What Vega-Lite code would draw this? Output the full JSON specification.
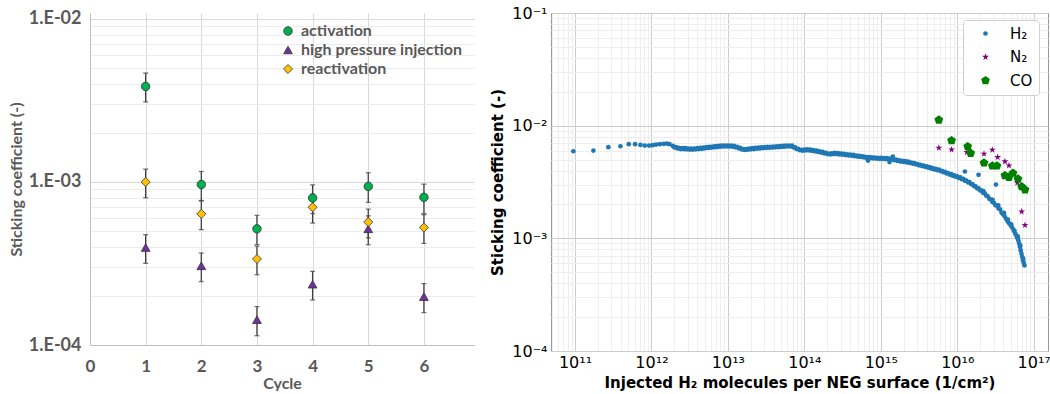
{
  "$schema": "https://vega.github.io/schema/vega-lite/v6.json",
  "background": "white",
  "padding": {"left": 8, "top": 4, "right": 0, "bottom": 0},
  "spacing": 16,
  "resolve": {"scale": {"color": "independent", "shape": "independent", "size": "independent"}, "legend": {"color": "independent", "shape": "independent", "size": "independent"}},
  "datasets": {
    "cycles": [
      {"cycle": 1, "series": "activation", "v": 0.00386, "lo": 0.0031, "hi": 0.00466},
      {"cycle": 2, "series": "activation", "v": 0.000965, "lo": 0.00077, "hi": 0.00116},
      {"cycle": 3, "series": "activation", "v": 0.000516, "lo": 0.000413, "hi": 0.000624},
      {"cycle": 4, "series": "activation", "v": 0.000798, "lo": 0.00064, "hi": 0.00096},
      {"cycle": 5, "series": "activation", "v": 0.00094, "lo": 0.00075, "hi": 0.00114},
      {"cycle": 6, "series": "activation", "v": 0.000805, "lo": 0.00064, "hi": 0.00097},
      {"cycle": 1, "series": "high pressure injection", "v": 0.000396, "lo": 0.000317, "hi": 0.000475},
      {"cycle": 2, "series": "high pressure injection", "v": 0.000306, "lo": 0.000245, "hi": 0.000367},
      {"cycle": 3, "series": "high pressure injection", "v": 0.000143, "lo": 0.000114, "hi": 0.000172},
      {"cycle": 4, "series": "high pressure injection", "v": 0.000236, "lo": 0.000189, "hi": 0.000283},
      {"cycle": 5, "series": "high pressure injection", "v": 0.000516, "lo": 0.000413, "hi": 0.00062},
      {"cycle": 6, "series": "high pressure injection", "v": 0.000198, "lo": 0.000158, "hi": 0.000238},
      {"cycle": 1, "series": "reactivation", "v": 0.001, "lo": 0.0008, "hi": 0.0012},
      {"cycle": 2, "series": "reactivation", "v": 0.000638, "lo": 0.00051, "hi": 0.000766},
      {"cycle": 3, "series": "reactivation", "v": 0.000337, "lo": 0.00027, "hi": 0.000404},
      {"cycle": 4, "series": "reactivation", "v": 0.0007, "lo": 0.00056, "hi": 0.00084},
      {"cycle": 5, "series": "reactivation", "v": 0.000568, "lo": 0.000454, "hi": 0.000682},
      {"cycle": 6, "series": "reactivation", "v": 0.000525, "lo": 0.00042, "hi": 0.00063}
    ],
    "h2": [
      {"x": 9.5e10, "y": 5.93e-3}, {"x": 1.74e11, "y": 6.01e-3}, {"x": 2.73e11, "y": 6.44e-3}, {"x": 3.93e11, "y": 6.57e-3},
      {"x": 5.05e11, "y": 6.85e-3}, {"x": 6.11e11, "y": 6.85e-3}, {"x": 7.18e11, "y": 6.75e-3}, {"x": 8.17e11, "y": 6.66e-3},
      {"x": 9.31e11, "y": 6.66e-3}, {"x": 1.04e12, "y": 6.71e-3}, {"x": 1.15e12, "y": 6.80e-3}, {"x": 1.29e12, "y": 6.85e-3},
      {"x": 1.45e12, "y": 6.9e-3}, {"x": 1.59e12, "y": 6.94e-3}, {"x": 1.72e12, "y": 6.85e-3}, {"x": 1.905e12, "y": 6.61e-3},
      {"x": 2.089e12, "y": 6.46e-3}, {"x": 2.291e12, "y": 6.35e-3}, {"x": 2.512e12, "y": 6.31e-3}, {"x": 2.754e12, "y": 6.31e-3},
      {"x": 3.02e12, "y": 6.27e-3}, {"x": 3.311e12, "y": 6.27e-3}, {"x": 3.631e12, "y": 6.27e-3}, {"x": 3.981e12, "y": 6.31e-3},
      {"x": 4.365e12, "y": 6.34e-3}, {"x": 4.786e12, "y": 6.38e-3}, {"x": 5.248e12, "y": 6.46e-3}, {"x": 5.754e12, "y": 6.49e-3},
      {"x": 6.31e12, "y": 6.53e-3}, {"x": 6.918e12, "y": 6.58e-3}, {"x": 7.586e12, "y": 6.61e-3}, {"x": 8.318e12, "y": 6.65e-3},
      {"x": 9.12e12, "y": 6.67e-3}, {"x": 1.0e13, "y": 6.67e-3}, {"x": 1.096e13, "y": 6.65e-3}, {"x": 1.202e13, "y": 6.61e-3},
      {"x": 1.318e13, "y": 6.49e-3}, {"x": 1.445e13, "y": 6.35e-3}, {"x": 1.585e13, "y": 6.21e-3}, {"x": 1.738e13, "y": 6.21e-3},
      {"x": 1.905e13, "y": 6.27e-3}, {"x": 2.089e13, "y": 6.31e-3}, {"x": 2.291e13, "y": 6.35e-3}, {"x": 2.512e13, "y": 6.38e-3},
      {"x": 2.754e13, "y": 6.43e-3}, {"x": 3.02e13, "y": 6.46e-3}, {"x": 3.311e13, "y": 6.49e-3}, {"x": 3.631e13, "y": 6.5e-3},
      {"x": 3.981e13, "y": 6.53e-3}, {"x": 4.365e13, "y": 6.56e-3}, {"x": 4.786e13, "y": 6.58e-3}, {"x": 5.248e13, "y": 6.61e-3},
      {"x": 5.754e13, "y": 6.64e-3}, {"x": 6.31e13, "y": 6.67e-3}, {"x": 6.918e13, "y": 6.64e-3}, {"x": 7.586e13, "y": 6.41e-3},
      {"x": 8.318e13, "y": 6.24e-3}, {"x": 9.12e13, "y": 6.1e-3}, {"x": 1.0e14, "y": 6.14e-3}, {"x": 1.096e14, "y": 6.17e-3},
      {"x": 1.202e14, "y": 6.12e-3}, {"x": 1.318e14, "y": 6.08e-3}, {"x": 1.445e14, "y": 6.0e-3}, {"x": 1.585e14, "y": 5.93e-3},
      {"x": 1.738e14, "y": 5.85e-3}, {"x": 1.905e14, "y": 5.75e-3}, {"x": 2.089e14, "y": 5.65e-3}, {"x": 2.291e14, "y": 5.69e-3},
      {"x": 2.512e14, "y": 5.73e-3}, {"x": 2.754e14, "y": 5.7e-3}, {"x": 3.02e14, "y": 5.65e-3}, {"x": 3.311e14, "y": 5.61e-3},
      {"x": 3.631e14, "y": 5.57e-3}, {"x": 3.981e14, "y": 5.53e-3}, {"x": 4.365e14, "y": 5.5e-3}, {"x": 4.786e14, "y": 5.43e-3},
      {"x": 5.248e14, "y": 5.4e-3}, {"x": 5.754e14, "y": 5.35e-3}, {"x": 6.31e14, "y": 5.3e-3}, {"x": 6.918e14, "y": 5.25e-3},
      {"x": 7.586e14, "y": 5.24e-3}, {"x": 8.318e14, "y": 5.21e-3}, {"x": 9.12e14, "y": 5.19e-3}, {"x": 1.0e15, "y": 5.18e-3},
      {"x": 1.096e15, "y": 5.16e-3}, {"x": 1.202e15, "y": 5.15e-3}, {"x": 1.318e15, "y": 5.11e-3}, {"x": 1.445e15, "y": 5.07e-3},
      {"x": 1.585e15, "y": 4.99e-3}, {"x": 1.738e15, "y": 4.92e-3}, {"x": 1.905e15, "y": 4.88e-3}, {"x": 2.089e15, "y": 4.84e-3},
      {"x": 2.291e15, "y": 4.79e-3}, {"x": 2.512e15, "y": 4.71e-3}, {"x": 2.754e15, "y": 4.65e-3}, {"x": 3.02e15, "y": 4.57e-3},
      {"x": 3.311e15, "y": 4.5e-3}, {"x": 3.631e15, "y": 4.43e-3}, {"x": 3.981e15, "y": 4.36e-3}, {"x": 4.365e15, "y": 4.28e-3},
      {"x": 4.786e15, "y": 4.2e-3}, {"x": 5.248e15, "y": 4.13e-3}, {"x": 5.754e15, "y": 4.07e-3}, {"x": 6.31e15, "y": 3.98e-3},
      {"x": 6.918e15, "y": 3.89e-3}, {"x": 7.586e15, "y": 3.8e-3}, {"x": 8.318e15, "y": 3.72e-3}, {"x": 9.12e15, "y": 3.63e-3},
      {"x": 1.0e16, "y": 3.55e-3}, {"x": 1.096e16, "y": 3.47e-3}, {"x": 1.202e16, "y": 3.37e-3}, {"x": 1.318e16, "y": 3.26e-3},
      {"x": 1.445e16, "y": 3.15e-3}, {"x": 1.585e16, "y": 3.03e-3}, {"x": 1.738e16, "y": 2.9e-3}, {"x": 1.905e16, "y": 2.78e-3},
      {"x": 2.089e16, "y": 2.65e-3}, {"x": 2.291e16, "y": 2.51e-3}, {"x": 2.512e16, "y": 2.36e-3}, {"x": 2.754e16, "y": 2.21e-3},
      {"x": 3.02e16, "y": 2.07e-3}, {"x": 3.311e16, "y": 1.95e-3}, {"x": 3.631e16, "y": 1.81e-3}, {"x": 3.981e16, "y": 1.64e-3},
      {"x": 4.169e16, "y": 1.57e-3}, {"x": 4.365e16, "y": 1.49e-3}, {"x": 4.571e16, "y": 1.41e-3}, {"x": 4.786e16, "y": 1.36e-3},
      {"x": 5.012e16, "y": 1.3e-3}, {"x": 5.248e16, "y": 1.24e-3}, {"x": 5.495e16, "y": 1.17e-3}, {"x": 5.754e16, "y": 1.1e-3},
      {"x": 5.957e16, "y": 1.05e-3}, {"x": 6.166e16, "y": 1.0e-3}, {"x": 6.31e16, "y": 9.55e-4}, {"x": 6.457e16, "y": 9.02e-4},
      {"x": 6.607e16, "y": 8.41e-4}, {"x": 6.761e16, "y": 7.85e-4}, {"x": 6.918e16, "y": 7.33e-4}, {"x": 7.079e16, "y": 6.84e-4},
      {"x": 7.244e16, "y": 6.38e-4}, {"x": 7.413e16, "y": 6.03e-4}, {"x": 7.586e16, "y": 5.75e-4},
      {"x": 6.8e14, "y": 4.9e-3}, {"x": 1.3e15, "y": 4.75e-3}, {"x": 1.44e15, "y": 5.32e-3}, {"x": 1.26e16, "y": 3.92e-3},
      {"x": 1.9e16, "y": 3.66e-3}, {"x": 3.21e16, "y": 3.0e-3}, {"x": 2.2e16, "y": 2.62e-3}, {"x": 2.9e16, "y": 2.2e-3},
      {"x": 3.45e16, "y": 1.96e-3}, {"x": 4.1e16, "y": 1.68e-3}, {"x": 4.6e16, "y": 1.47e-3}, {"x": 5.1e16, "y": 1.33e-3},
      {"x": 5.6e16, "y": 1.17e-3}, {"x": 6.2e16, "y": 1.04e-3}, {"x": 6.7e16, "y": 8.6e-4}, {"x": 7.3e16, "y": 6.6e-4},
      {"x": 1.995e12, "y": 6.40e-3}, {"x": 2.188e12, "y": 6.28e-3}, {"x": 2.399e12, "y": 6.20e-3}, {"x": 2.630e12, "y": 6.18e-3},
      {"x": 2.884e12, "y": 6.16e-3}, {"x": 3.162e12, "y": 6.14e-3}, {"x": 3.467e12, "y": 6.14e-3}, {"x": 3.802e12, "y": 6.16e-3},
      {"x": 4.169e12, "y": 6.20e-3}, {"x": 4.571e12, "y": 6.23e-3}, {"x": 5.012e12, "y": 6.29e-3}, {"x": 5.495e12, "y": 6.34e-3},
      {"x": 6.026e12, "y": 6.38e-3}, {"x": 6.607e12, "y": 6.42e-3}, {"x": 7.244e12, "y": 6.46e-3}, {"x": 7.943e12, "y": 6.50e-3},
      {"x": 8.710e12, "y": 6.53e-3}, {"x": 9.550e12, "y": 6.54e-3}, {"x": 1.047e13, "y": 6.53e-3}, {"x": 1.148e13, "y": 6.50e-3},
      {"x": 1.259e13, "y": 6.42e-3}, {"x": 1.380e13, "y": 6.29e-3}, {"x": 1.514e13, "y": 6.15e-3}, {"x": 1.660e13, "y": 6.09e-3},
      {"x": 1.820e13, "y": 6.12e-3}, {"x": 1.995e13, "y": 6.16e-3}, {"x": 2.188e13, "y": 6.20e-3}, {"x": 2.399e13, "y": 6.24e-3},
      {"x": 2.630e13, "y": 6.27e-3}, {"x": 2.884e13, "y": 6.32e-3}, {"x": 3.162e13, "y": 6.35e-3}, {"x": 3.467e13, "y": 6.37e-3},
      {"x": 3.802e13, "y": 6.39e-3}, {"x": 4.169e13, "y": 6.42e-3}, {"x": 4.571e13, "y": 6.44e-3}, {"x": 5.012e13, "y": 6.47e-3},
      {"x": 5.495e13, "y": 6.50e-3}, {"x": 6.026e13, "y": 6.53e-3}, {"x": 6.607e13, "y": 6.53e-3}, {"x": 7.244e13, "y": 6.40e-3},
      {"x": 7.943e13, "y": 6.20e-3}, {"x": 8.710e13, "y": 6.05e-3}, {"x": 9.550e13, "y": 6.00e-3}, {"x": 1.047e14, "y": 6.04e-3},
      {"x": 1.148e14, "y": 6.02e-3}, {"x": 1.259e14, "y": 5.98e-3}, {"x": 1.380e14, "y": 5.92e-3}, {"x": 1.514e14, "y": 5.85e-3},
      {"x": 1.660e14, "y": 5.77e-3}, {"x": 1.820e14, "y": 5.68e-3}, {"x": 1.995e14, "y": 5.59e-3}, {"x": 2.188e14, "y": 5.56e-3},
      {"x": 2.399e14, "y": 5.60e-3}, {"x": 2.630e14, "y": 5.60e-3}, {"x": 2.884e14, "y": 5.56e-3}, {"x": 3.162e14, "y": 5.52e-3},
      {"x": 3.467e14, "y": 5.48e-3}, {"x": 3.802e14, "y": 5.44e-3}, {"x": 4.169e14, "y": 5.41e-3}, {"x": 4.571e14, "y": 5.36e-3},
      {"x": 5.012e14, "y": 5.31e-3}, {"x": 5.495e14, "y": 5.27e-3}, {"x": 6.026e14, "y": 5.22e-3}, {"x": 6.607e14, "y": 5.17e-3},
      {"x": 7.244e14, "y": 5.14e-3}, {"x": 7.943e14, "y": 5.12e-3}, {"x": 8.710e14, "y": 5.10e-3}, {"x": 9.550e14, "y": 5.08e-3},
      {"x": 1.047e15, "y": 5.07e-3}, {"x": 1.148e15, "y": 5.05e-3}, {"x": 1.259e15, "y": 5.03e-3}, {"x": 1.380e15, "y": 4.99e-3},
      {"x": 1.514e15, "y": 4.93e-3}, {"x": 1.660e15, "y": 4.86e-3}, {"x": 1.820e15, "y": 4.80e-3}, {"x": 1.995e15, "y": 4.76e-3},
      {"x": 2.188e15, "y": 4.72e-3}, {"x": 2.399e15, "y": 4.66e-3}, {"x": 2.630e15, "y": 4.59e-3}, {"x": 2.884e15, "y": 4.52e-3},
      {"x": 3.162e15, "y": 4.45e-3}, {"x": 3.467e15, "y": 4.38e-3}, {"x": 3.802e15, "y": 4.31e-3}, {"x": 4.169e15, "y": 4.23e-3},
      {"x": 4.571e15, "y": 4.16e-3}, {"x": 5.012e15, "y": 4.09e-3}, {"x": 5.495e15, "y": 4.02e-3}, {"x": 6.026e15, "y": 3.95e-3},
      {"x": 6.607e15, "y": 3.86e-3}, {"x": 7.244e15, "y": 3.77e-3}, {"x": 7.943e15, "y": 3.68e-3}, {"x": 8.710e15, "y": 3.60e-3},
      {"x": 9.550e15, "y": 3.52e-3}, {"x": 1.047e16, "y": 3.44e-3}, {"x": 1.148e16, "y": 3.35e-3}, {"x": 1.259e16, "y": 3.25e-3},
      {"x": 1.380e16, "y": 3.14e-3}, {"x": 1.514e16, "y": 3.03e-3}, {"x": 1.660e16, "y": 2.91e-3}, {"x": 1.820e16, "y": 2.78e-3},
      {"x": 1.995e16, "y": 2.66e-3}, {"x": 2.188e16, "y": 2.53e-3}, {"x": 2.399e16, "y": 2.39e-3}, {"x": 2.630e16, "y": 2.24e-3},
      {"x": 2.884e16, "y": 2.10e-3}, {"x": 3.162e16, "y": 1.97e-3}, {"x": 3.467e16, "y": 1.84e-3}, {"x": 3.802e16, "y": 1.69e-3}
    ],
    "n2": [
      {"x": 5.75e15, "y": 6.35e-3}, {"x": 8.43e15, "y": 6.14e-3}, {"x": 1.34e16, "y": 5.81e-3}, {"x": 2.24e16, "y": 5.62e-3},
      {"x": 2.88e16, "y": 6.1e-3}, {"x": 3.38e16, "y": 5.25e-3}, {"x": 4.21e16, "y": 4.81e-3}, {"x": 4.75e16, "y": 4.43e-3},
      {"x": 6.11e16, "y": 3.11e-3}, {"x": 6.97e16, "y": 1.73e-3}, {"x": 7.7e16, "y": 1.31e-3}
    ],
    "co": [
      {"x": 5.75e15, "y": 1.125e-2}, {"x": 8.43e15, "y": 7.38e-3}, {"x": 1.37e16, "y": 6.53e-3}, {"x": 1.5e16, "y": 5.7e-3},
      {"x": 2.24e16, "y": 4.68e-3}, {"x": 2.88e16, "y": 4.4e-3}, {"x": 3.31e16, "y": 4.4e-3}, {"x": 4.21e16, "y": 3.61e-3},
      {"x": 4.75e16, "y": 3.49e-3}, {"x": 5.36e16, "y": 3.79e-3}, {"x": 6.23e16, "y": 3.37e-3}, {"x": 6.97e16, "y": 2.88e-3},
      {"x": 7.7e16, "y": 2.7e-3}
    ]
  },
  "hconcat": [
    {
      "width": 384,
      "height": 332,
      "view": {"stroke": null},
      "data": {"name": "cycles"},
      "resolve": {"axis": {"y": "independent"}},
      "layer": [
        {
          "mark": {"type": "rule", "color": "#404040", "strokeWidth": 1.3},
          "encoding": {
            "x": {"field": "cycle", "type": "quantitative",
              "scale": {"domain": [0, 6.9], "nice": false, "zero": false},
              "axis": {"values": [0, 1, 2, 3, 4, 5, 6], "format": "d", "title": "Cycle", "grid": true, "gridColor": "#d9d9d9",
                "ticks": false, "domainColor": "#bfbfbf", "labelFont": "Lato", "labelFontWeight": "bold",
                "labelFontSize": 17, "labelColor": "#595959", "labelPadding": 13, "labelFlush": false,
                "titleFont": "Lato", "titleFontSize": 16, "titleFontWeight": "bold", "titleColor": "#595959", "titlePadding": 1}},
            "y": {"field": "lo", "type": "quantitative",
              "scale": {"type": "log", "domain": [0.0001, 0.010884], "nice": false},
              "axis": {"values": [0.0001, 0.001, 0.01],
                "labelExpr": "datum.value < 0.0005 ? '1.E-04' : (datum.value < 0.005 ? '1.E-03' : '1.E-02')",
                "title": "Sticking coefficient (-)", "grid": true, "gridColor": "#d9d9d9", "ticks": false,
                "domainColor": "#bfbfbf", "labelFont": "Lato", "labelFontWeight": "bold", "labelFontSize": 18,
                "labelColor": "#595959", "labelPadding": 9, "titleFont": "Lato", "titleFontSize": 16,
                "titleFontWeight": "bold", "titleColor": "#595959", "titlePadding": 4}},
            "y2": {"field": "hi"}
          }
        },
        {
          "mark": {"type": "tick", "orient": "horizontal", "size": 5, "thickness": 1.3, "color": "#404040"},
          "encoding": {
            "x": {"field": "cycle", "type": "quantitative"},
            "y": {"field": "lo", "type": "quantitative",
              "axis": {"orient": "right", "values": [0.0002, 0.0003, 0.0004, 0.0005, 0.0006, 0.0007, 0.0008, 0.0009, 0.002, 0.003, 0.004, 0.005, 0.006, 0.007, 0.008, 0.009],
                "grid": true, "gridColor": "#ececec", "labels": false, "ticks": false, "domain": false, "title": null}}
          }
        },
        {
          "mark": {"type": "tick", "orient": "horizontal", "size": 5, "thickness": 1.3, "color": "#404040"},
          "encoding": {
            "x": {"field": "cycle", "type": "quantitative"},
            "y": {"field": "hi", "type": "quantitative", "axis": null}
          }
        },
        {
          "mark": {"type": "point", "filled": true, "opacity": 1, "stroke": "#333333", "strokeWidth": 0.8},
          "encoding": {
            "x": {"field": "cycle", "type": "quantitative"},
            "y": {"field": "v", "type": "quantitative", "axis": null},
            "color": {"field": "series", "type": "nominal",
              "scale": {"domain": ["activation", "high pressure injection", "reactivation"], "range": ["#00B050", "#7030A0", "#FFC000"]},
              "legend": {"orient": "none", "legendX": 190, "legendY": 10, "title": null, "padding": 0,
                "labelOffset": 5, "rowPadding": 3, "labelFont": "Lato", "labelFontSize": 16, "labelFontWeight": "bold",
                "labelColor": "#595959", "symbolStrokeColor": "#333333", "symbolStrokeWidth": 0.8, "labelLimit": 300}},
            "shape": {"field": "series", "type": "nominal",
              "scale": {"domain": ["activation", "high pressure injection", "reactivation"], "range": ["circle", "triangle-up", "diamond"]}},
            "size": {"field": "series", "type": "nominal",
              "scale": {"domain": ["activation", "high pressure injection", "reactivation"], "range": [72, 82, 54]}}
          }
        }
      ]
    },
    {
      "width": 497,
      "height": 338,
      "view": {"stroke": "#999999"},
      "resolve": {"axis": {"x": "independent", "y": "independent"}},
      "layer": [
        {
          "data": {"name": "h2"},
          "mark": {"type": "point", "filled": true, "opacity": 1},
          "encoding": {
            "x": {"field": "x", "type": "quantitative",
              "scale": {"type": "log", "domain": [4.85e10, 1.54e17], "nice": false},
              "axis": {"values": [1e11, 1e12, 1e13, 1e14, 1e15, 1e16, 1e17],
                "labelExpr": "'10' + ['¹¹','¹²','¹³','¹⁴','¹⁵','¹⁶','¹⁷'][round(log(datum.value)/LN10) - 11]",
                "grid": true, "gridColor": "#cccccc", "ticks": false, "domain": false,
                "labelFont": "DejaVu Sans", "labelFontSize": 16, "labelColor": "black", "labelPadding": 3,
                "title": "Injected H₂ molecules per NEG surface (1/cm²)", "titleFont": "DejaVu Sans",
                "titleFontSize": 15, "titleFontWeight": "bold", "titleColor": "black", "titlePadding": 5}},
            "y": {"field": "y", "type": "quantitative",
              "scale": {"type": "log", "domain": [0.0001, 0.1], "nice": false},
              "axis": {"values": [0.0001, 0.001, 0.01, 0.1],
                "labelExpr": "'10' + ['⁻⁴','⁻³','⁻²','⁻¹'][round(log(datum.value)/LN10) + 4]",
                "grid": true, "gridColor": "#cccccc", "ticks": false, "domain": false,
                "labelFont": "DejaVu Sans", "labelFontSize": 16, "labelColor": "black", "labelPadding": 4,
                "title": "Sticking coefficient (-)", "titleFont": "DejaVu Sans", "titleFontSize": 15,
                "titleFontWeight": "bold", "titleColor": "black", "titlePadding": 6}},
            "color": {"datum": "H₂", "type": "nominal",
              "scale": {"domain": ["H₂", "N₂", "CO"], "range": ["#1f77b4", "#800080", "#008000"]},
              "legend": {"orient": "none", "legendX": 412, "legendY": 7, "title": null, "padding": 6,
                "symbolOffset": 9, "labelOffset": 17, "rowPadding": 7.5, "labelFont": "DejaVu Sans",
                "labelFontSize": 15, "labelColor": "black", "strokeColor": "#d0d0d0",
                "fillColor": "rgba(255,255,255,0.85)", "cornerRadius": 3, "symbolStrokeWidth": 0, "symbolOpacity": 1}},
            "shape": {"datum": "H₂", "type": "nominal",
              "scale": {"domain": ["H₂", "N₂", "CO"],
                "range": ["circle",
                  "M0,-1L0.225,-0.309L0.951,-0.309L0.363,0.118L0.588,0.809L0,0.382L-0.588,0.809L-0.363,0.118L-0.951,-0.309L-0.225,-0.309Z",
                  "M0,-1L0.951,-0.309L0.588,0.809L-0.588,0.809L-0.951,-0.309Z"]}},
            "size": {"datum": "H₂", "type": "nominal",
              "scale": {"domain": ["H₂", "N₂", "CO"], "range": [22, 85, 82]}}
          }
        },
        {
          "data": {"name": "n2"},
          "mark": {"type": "point", "filled": true, "opacity": 1},
          "encoding": {
            "x": {"field": "x", "type": "quantitative",
              "axis": {"orient": "bottom", "values": [5e10, 6e10, 7e10, 8e10, 9e10, 2e11, 3e11, 4e11, 5e11, 6e11, 7e11, 8e11, 9e11, 2e12, 3e12, 4e12, 5e12, 6e12, 7e12, 8e12, 9e12, 2e13, 3e13, 4e13, 5e13, 6e13, 7e13, 8e13, 9e13, 2e14, 3e14, 4e14, 5e14, 6e14, 7e14, 8e14, 9e14, 2e15, 3e15, 4e15, 5e15, 6e15, 7e15, 8e15, 9e15, 2e16, 3e16, 4e16, 5e16, 6e16, 7e16, 8e16, 9e16],
                "grid": true, "gridColor": "#eeeeee", "labels": false, "ticks": false, "domain": false, "title": null}},
            "y": {"field": "y", "type": "quantitative",
              "axis": {"orient": "left", "values": [0.0002, 0.0003, 0.0004, 0.0005, 0.0006, 0.0007, 0.0008, 0.0009, 0.002, 0.003, 0.004, 0.005, 0.006, 0.007, 0.008, 0.009, 0.02, 0.03, 0.04, 0.05, 0.06, 0.07, 0.08, 0.09],
                "grid": true, "gridColor": "#eeeeee", "labels": false, "ticks": false, "domain": false, "title": null}},
            "color": {"datum": "N₂", "type": "nominal"},
            "shape": {"datum": "N₂", "type": "nominal"},
            "size": {"datum": "N₂", "type": "nominal"}
          }
        },
        {
          "data": {"name": "co"},
          "mark": {"type": "point", "filled": true, "opacity": 1},
          "encoding": {
            "x": {"field": "x", "type": "quantitative", "axis": null},
            "y": {"field": "y", "type": "quantitative", "axis": null},
            "color": {"datum": "CO", "type": "nominal"},
            "shape": {"datum": "CO", "type": "nominal"},
            "size": {"datum": "CO", "type": "nominal"}
          }
        }
      ]
    }
  ]
}
